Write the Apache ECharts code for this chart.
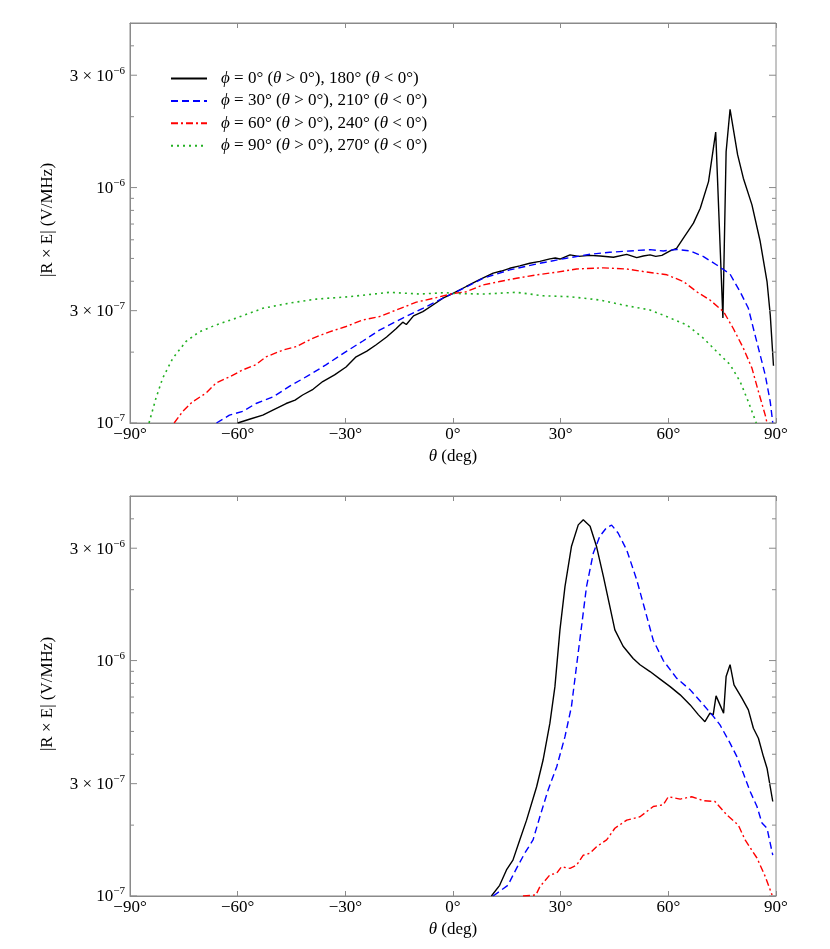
<!DOCTYPE html>
<html><head><meta charset="utf-8">
<script src="https://cdn.jsdelivr.net/npm/echarts@6/dist/echarts.min.js"></script>
<style>html,body{margin:0;padding:0;background:#fff}#c{width:830px;height:949px}</style>
</head><body><div id="c"></div>
<script>
// ---------- DATA ----------
const seriesNames = ['phi0', 'phi30', 'phi60', 'phi90'];
const legendTexts = [
  '{i|ϕ} = 0° ({i|θ} > 0°), 180° ({i|θ} < 0°)',
  '{i|ϕ} = 30° ({i|θ} > 0°), 210° ({i|θ} < 0°)',
  '{i|ϕ} = 60° ({i|θ} > 0°), 240° ({i|θ} < 0°)',
  '{i|ϕ} = 90° ({i|θ} > 0°), 270° ({i|θ} < 0°)'
];
const xTickMin = -90, xTickMax = 90, xTickStep = 30;
const yMin = 1e-7, yMax = 5e-6;
const yTickVals = [1e-7,2e-7,3e-7,4e-7,5e-7,6e-7,7e-7,8e-7,9e-7,1e-6,2e-6,3e-6,4e-6];
const yLabelVals = [1e-7, 3e-7, 1e-6, 3e-6];
const yLabelTexts = ['{n|10}{s|−7}', '{n|3 × 10}{s|−7}', '{n|10}{s|−6}', '{n|3 × 10}{s|−6}'];
const yAxisTitle = '|R × E| (V/MHz)';
const xAxisTitle = '{i|θ} (deg)';

// Top panel
const top_phi0 = [[-60,1.0e-7],[-56.5,1.04e-7],[-53,1.08e-7],[-50.2,1.135e-7],[-46.5,1.21e-7],[-44,1.25e-7],[-41.9,1.315e-7],[-39,1.39e-7],[-36.3,1.5e-7],[-33,1.6e-7],[-29.8,1.73e-7],[-27,1.91e-7],[-24,2.02e-7],[-21.4,2.15e-7],[-18.5,2.32e-7],[-15.8,2.52e-7],[-14,2.68e-7],[-13,2.62e-7],[-11,2.85e-7],[-8.4,2.97e-7],[-5.5,3.18e-7],[-2.8,3.39e-7],[0,3.55e-7],[3.7,3.8e-7],[7.4,4.06e-7],[11.2,4.33e-7],[13.5,4.42e-7],[15.8,4.54e-7],[18.6,4.65e-7],[21.4,4.77e-7],[24.2,4.86e-7],[27,4.98e-7],[28.5,5.02e-7],[29.8,4.97e-7],[32.6,5.18e-7],[35,5.1e-7],[38.1,5.15e-7],[41,5.12e-7],[44.7,5.06e-7],[48.4,5.2e-7],[51.2,5.04e-7],[53,5.12e-7],[54.9,5.18e-7],[56.5,5.1e-7],[58.2,5.15e-7],[60.5,5.38e-7],[62.3,5.52e-7],[64.2,6.1e-7],[67,7.06e-7],[68.9,8.17e-7],[71.2,1.06e-6],[73.2,1.72e-6],[75.2,2.79e-7],[76.1,1.42e-6],[77.2,2.15e-6],[79.3,1.38e-6],[80.9,1.096e-6],[83.3,8.44e-7],[85.6,5.9e-7],[87.5,3.99e-7],[88.4,2.88e-7],[89.3,1.75e-7]];
const top_phi30 = [[-65.9,1.0e-7],[-62.3,1.08e-7],[-58.6,1.12e-7],[-54.9,1.21e-7],[-50.2,1.29e-7],[-45.6,1.43e-7],[-40,1.6e-7],[-35.3,1.77e-7],[-29.8,2.01e-7],[-25.1,2.23e-7],[-20.5,2.48e-7],[-14,2.79e-7],[-8.4,3.07e-7],[-2.8,3.39e-7],[0,3.55e-7],[4,3.8e-7],[8.4,4.12e-7],[15.8,4.47e-7],[24.2,4.77e-7],[31.6,5.01e-7],[38.2,5.21e-7],[43.7,5.31e-7],[49.3,5.38e-7],[54.9,5.45e-7],[58.6,5.38e-7],[62.3,5.46e-7],[66.1,5.38e-7],[69.8,5.09e-7],[73.5,4.69e-7],[77.2,4.29e-7],[80,3.61e-7],[82.3,3.07e-7],[83.7,2.52e-7],[85.1,2.08e-7],[87,1.6e-7],[88.4,1.23e-7],[89.1,1.0e-7]];
const top_phi60 = [[-77.7,1.0e-7],[-75.3,1.12e-7],[-72.6,1.23e-7],[-68.8,1.34e-7],[-66,1.48e-7],[-62.3,1.57e-7],[-58.6,1.68e-7],[-54.9,1.77e-7],[-52.1,1.91e-7],[-47.4,2.04e-7],[-43.7,2.11e-7],[-39.1,2.29e-7],[-34.4,2.44e-7],[-29.8,2.57e-7],[-25.1,2.74e-7],[-20.5,2.83e-7],[-15.8,3.02e-7],[-10.2,3.26e-7],[-4.6,3.41e-7],[0,3.55e-7],[3.7,3.61e-7],[8.4,3.86e-7],[13,3.99e-7],[17.7,4.12e-7],[23.3,4.26e-7],[28.9,4.37e-7],[34.4,4.51e-7],[41.9,4.56e-7],[48.4,4.51e-7],[53,4.4e-7],[59.6,4.26e-7],[64.2,3.99e-7],[67.9,3.61e-7],[71.6,3.33e-7],[75.4,2.97e-7],[78.1,2.52e-7],[80.9,2.08e-7],[83.3,1.71e-7],[85.1,1.36e-7],[87,1.08e-7],[87.5,1.0e-7]];
const top_phi90 = [[-84.7,1.0e-7],[-82.8,1.27e-7],[-80.9,1.55e-7],[-78.1,1.88e-7],[-74.4,2.22e-7],[-70.7,2.44e-7],[-66,2.61e-7],[-60.4,2.79e-7],[-53,3.07e-7],[-45.6,3.23e-7],[-38.1,3.36e-7],[-28.8,3.44e-7],[-17.7,3.59e-7],[-9.3,3.53e-7],[-1.9,3.58e-7],[0,3.55e-7],[8.4,3.53e-7],[17.7,3.59e-7],[25.1,3.47e-7],[32.6,3.44e-7],[40.9,3.33e-7],[47.4,3.17e-7],[54.9,3.02e-7],[59.6,2.83e-7],[65.1,2.61e-7],[69.8,2.29e-7],[73.5,2.01e-7],[77.2,1.77e-7],[80,1.5e-7],[82.3,1.23e-7],[84.2,1.03e-7],[84.5,1.0e-7]];

// Bottom panel
const bot_phi0 = [[10.7,1.0e-7],[13,1.11e-7],[14.9,1.29e-7],[16.7,1.42e-7],[18.6,1.73e-7],[20.5,2.1e-7],[23.3,2.91e-7],[25.1,3.78e-7],[27,5.42e-7],[28.4,7.75e-7],[29.8,1.35e-6],[31.2,2.06e-6],[33,3.05e-6],[34.9,3.77e-6],[36.3,3.96e-6],[38.2,3.72e-6],[40,3.05e-6],[41.9,2.28e-6],[43.7,1.7e-6],[45.1,1.35e-6],[47.4,1.15e-6],[50.2,1.02e-6],[52.1,9.6e-7],[54.9,8.98e-7],[57.7,8.34e-7],[60.5,7.75e-7],[63.3,7.15e-7],[66.1,6.48e-7],[68.4,5.88e-7],[70.2,5.5e-7],[71.6,5.98e-7],[72.5,5.88e-7],[73.3,7.08e-7],[75.4,5.98e-7],[76.1,8.55e-7],[77.2,9.6e-7],[78.3,7.88e-7],[80.5,6.92e-7],[82.3,6.17e-7],[83.7,5.16e-7],[85.1,4.68e-7],[86.5,3.91e-7],[87.5,3.49e-7],[89.1,2.52e-7]];
const bot_phi30 = [[11.2,1.0e-7],[15.3,1.11e-7],[17.7,1.31e-7],[20,1.52e-7],[22.3,1.73e-7],[24.2,2.17e-7],[26.5,2.82e-7],[28.9,3.54e-7],[31.2,4.75e-7],[33,6.37e-7],[34.4,9.43e-7],[35.8,1.39e-6],[37.2,2.06e-6],[39.1,2.86e-6],[40.9,3.37e-6],[42.8,3.67e-6],[44.2,3.76e-6],[46,3.48e-6],[48.4,2.95e-6],[51.2,2.2e-6],[53.5,1.64e-6],[55.8,1.22e-6],[58.6,1.0e-6],[62.3,8.42e-7],[66.1,7.51e-7],[69.8,6.48e-7],[72.6,5.78e-7],[74.4,5.33e-7],[77.2,4.46e-7],[79.1,3.91e-7],[80.9,3.32e-7],[82.8,2.78e-7],[84.7,2.4e-7],[86.1,2.04e-7],[87.5,1.94e-7],[89.1,1.49e-7]];
const bot_phi60 = [[19.5,1.0e-7],[23.1,1.01e-7],[24.2,1.095e-7],[27,1.23e-7],[28.9,1.25e-7],[30.2,1.33e-7],[32.6,1.31e-7],[34.4,1.35e-7],[36.3,1.49e-7],[38.2,1.52e-7],[40,1.62e-7],[42.8,1.73e-7],[45.1,1.94e-7],[48.4,2.1e-7],[52.1,2.17e-7],[55.8,2.4e-7],[58.6,2.44e-7],[60,2.64e-7],[63.3,2.58e-7],[66.5,2.64e-7],[69.8,2.54e-7],[73,2.52e-7],[76.3,2.21e-7],[79.5,2.0e-7],[81.4,1.73e-7],[84.7,1.45e-7],[87,1.21e-7],[88.9,1.01e-7]];

// ---------- STYLE ----------
const FONT = '"Liberation Serif", "Times New Roman", serif';
const FS = 17;
const AXIS_GRAY = '#8a8a8a';
const lineStyles = {
  phi0:  {color:'#000000', width:1.4, type:'solid'},
  phi30: {color:'#0000ff', width:1.4, type:[7,4]},
  phi60: {color:'#ff0000', width:1.4, type:[7,3,2,3]},
  phi90: {color:'#22b022', width:1.6, type:[2,4]}
};
const grids = [
  {left:130, top:23, width:646, height:400},
  {left:130, top:496, width:646, height:400}
];

const yRich = {
  n: {fontFamily: FONT, fontSize: FS, color:'#000', lineHeight: 22},
  s: {fontFamily: FONT, fontSize: 11, color:'#000', lineHeight: 11, verticalAlign:'top'}
};

function lineSeries(name, data, g) {
  const ls = lineStyles[name];
  return {
    name, type:'line', data, xAxisIndex: g*2, yAxisIndex: g,
    showSymbol:false, symbol:'none', smooth:false, clip:true,
    lineStyle:{color:ls.color, width:ls.width, type:ls.type},
    itemStyle:{color:ls.color}, emphasis:{disabled:true}, z:3
  };
}

function tickSeries(g) {
  return {
    type:'custom', xAxisIndex: g*2, yAxisIndex: g, silent:true, clip:false, z:10,
    data: yTickVals.map(v => [xTickMin, v]),
    renderItem: (params, api) => {
      const v = api.value(1);
      const L = api.coord([xTickMin, v]);
      const R = api.coord([xTickMax, v]);
      const li = yLabelVals.findIndex(u => Math.abs(u - v) < v * 1e-6);
      const len = li >= 0 ? 7 : 4;
      const children = [
        {type:'line', shape:{x1:L[0], y1:L[1], x2:L[0]+len, y2:L[1]}, style:{stroke:AXIS_GRAY, lineWidth:1}},
        {type:'line', shape:{x1:R[0], y1:R[1], x2:R[0]-len, y2:R[1]}, style:{stroke:AXIS_GRAY, lineWidth:1}}
      ];
      if (li >= 0) {
        children.push({type:'text', x:L[0]-5, y:L[1]+1, style:{text:yLabelTexts[li], rich:yRich, align:'right', verticalAlign:'middle', fill:'#000'}});
      }
      return {type:'group', children};
    }
  };
}

function xAxes(g) {
  const fmt = v => (v < 0 ? '−' + Math.abs(v) : String(v)) + '°';
  return [
    {type:'value', gridIndex:g, position:'bottom', min:xTickMin, max:xTickMax, interval:xTickStep,
     axisLine:{show:true, onZero:false, lineStyle:{color:AXIS_GRAY}}, axisTick:{show:true, inside:true, length:5, lineStyle:{color:AXIS_GRAY}},
     splitLine:{show:false},
     axisLabel:{formatter:fmt, fontFamily:FONT, fontSize:FS, color:'#000', margin:3},
     name:xAxisTitle, nameLocation:'middle', nameGap:25,
     nameTextStyle:{fontFamily:FONT, fontSize:FS, color:'#000', rich:{i:{fontFamily:FONT, fontSize:FS, fontStyle:'italic', color:'#000'}}}},
    {type:'value', gridIndex:g, position:'top', min:xTickMin, max:xTickMax, interval:xTickStep,
     axisLine:{show:true, onZero:false, lineStyle:{color:AXIS_GRAY}}, axisTick:{show:true, inside:true, length:5, lineStyle:{color:AXIS_GRAY}},
     splitLine:{show:false}, axisLabel:{show:false}}
  ];
}

function yAxis(g) {
  return {type:'log', logBase:10, gridIndex:g, min:yMin, max:yMax,
    axisLine:{show:true, onZero:false, lineStyle:{color:AXIS_GRAY}}, axisTick:{show:false}, axisLabel:{show:false},
    splitLine:{show:false}, minorTick:{show:false}, minorSplitLine:{show:false}};
}

const chart = echarts.init(document.getElementById('c'), null, {renderer:'canvas'});
const option = {
  animation:false,
  backgroundColor:'#fff',
  grid: grids.map(g => Object.assign({show:true, borderColor:AXIS_GRAY, borderWidth:1, backgroundColor:'transparent'}, g)),
  xAxis: [...xAxes(0), ...xAxes(1)],
  yAxis: [yAxis(0), yAxis(1)],
  legend: {
    show:true, orient:'vertical', left:165, top:65, itemWidth:36, itemHeight:12, itemGap:5.4,
    selectedMode:false, data: seriesNames,
    itemStyle:{opacity:0, borderWidth:0},
    formatter: name => legendTexts[seriesNames.indexOf(name)],
    textStyle:{fontFamily:FONT, fontSize:FS, color:'#000', lineHeight:17, padding:[0,0,0,9],
      rich:{i:{fontFamily:FONT, fontSize:FS, fontStyle:'italic', color:'#000', lineHeight:17}}}
  },
  graphic: [
    {type:'text', x:48, y:220, rotation:Math.PI/2, style:{text:yAxisTitle, font:FS + 'px ' + FONT, fill:'#000', align:'center', verticalAlign:'middle'}},
    {type:'text', x:48, y:694, rotation:Math.PI/2, style:{text:yAxisTitle, font:FS + 'px ' + FONT, fill:'#000', align:'center', verticalAlign:'middle'}}
  ],
  series: [
    lineSeries('phi0', top_phi0, 0),
    lineSeries('phi30', top_phi30, 0),
    lineSeries('phi60', top_phi60, 0),
    lineSeries('phi90', top_phi90, 0),
    lineSeries('phi0', bot_phi0, 1),
    lineSeries('phi30', bot_phi30, 1),
    lineSeries('phi60', bot_phi60, 1),
    tickSeries(0),
    tickSeries(1)
  ]
};
chart.setOption(option);
</script>
</body></html>
